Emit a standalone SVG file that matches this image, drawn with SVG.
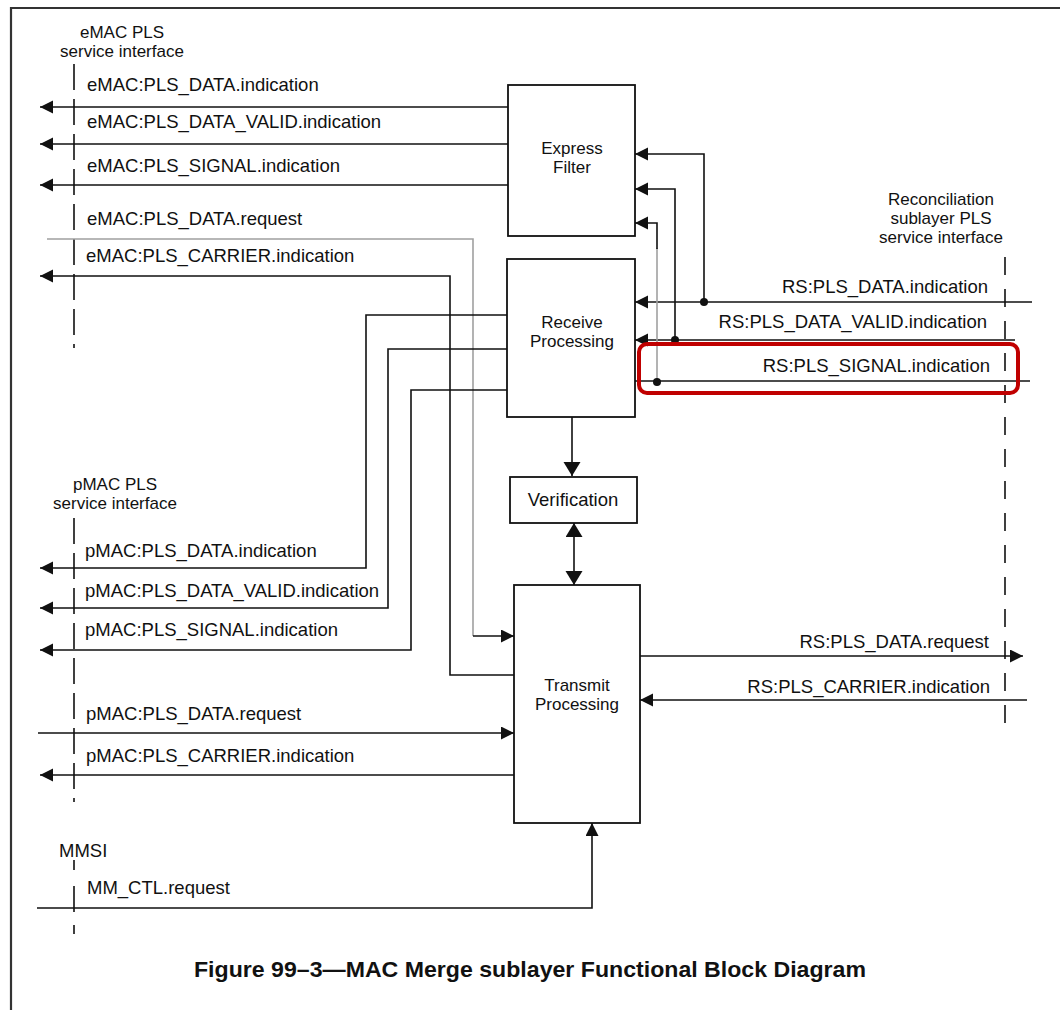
<svg xmlns="http://www.w3.org/2000/svg" width="1060" height="1010" viewBox="0 0 1060 1010">
<style>
text{font-family:"Liberation Sans",Arial,sans-serif;font-size:18.5px;fill:#111}
.c{text-anchor:middle}
.m{font-size:17px}
.e{text-anchor:end}
.cap{font-weight:bold;font-size:22px}
.ln{fill:none;stroke:#111;stroke-width:1.6}
.gr{fill:none;stroke:#a0a0a0;stroke-width:1.6}
.box{fill:#fff;stroke:#111;stroke-width:1.8}
.dl{fill:none;stroke:#111;stroke-width:1.6;stroke-dasharray:26 9}
.dr{fill:none;stroke:#111;stroke-width:1.6;stroke-dasharray:18 14}
.dot{fill:#111}
</style>
<defs>
<marker id="a" markerUnits="userSpaceOnUse" markerWidth="14" markerHeight="14" refX="13" refY="6.5" orient="auto-start-reverse"><path d="M0,0L13,6.5L0,13z" fill="#111"/></marker>
<marker id="b" markerUnits="userSpaceOnUse" markerWidth="16" markerHeight="18" refX="14" refY="8.5" orient="auto-start-reverse"><path d="M0,0L14,8.5L0,17z" fill="#111"/></marker>
</defs>
<rect width="1060" height="1010" fill="#fff"/>
<path d="M11,1010V8H1060" fill="none" stroke="#333" stroke-width="2.2"/>

<g id="interfaces">
<text class="c m" x="122" y="38">eMAC PLS</text>
<text class="c m" x="122" y="57">service interface</text>
<path class="dl" d="M74,64V348"/>
<text class="c m" x="115" y="490">pMAC PLS</text>
<text class="c m" x="115" y="509">service interface</text>
<path class="dl" d="M74,518V802"/>
<text x="59" y="857">MMSI</text>
<path class="ln" d="M74,860V870M74,886V912M74,925V934"/>
<text class="c m" x="941" y="205">Reconciliation</text>
<text class="c m" x="941" y="224">sublayer PLS</text>
<text class="c m" x="941" y="243">service interface</text>
<path class="dr" d="M1005,257V727"/>
</g>

<g id="connectors">
<path class="ln" d="M508,107H40" marker-end="url(#a)"/>
<path class="ln" d="M508,144H40" marker-end="url(#a)"/>
<path class="ln" d="M508,185H40" marker-end="url(#a)"/>
<path class="gr" d="M47,239H473V636"/>
<path class="ln" d="M473,636H514" marker-end="url(#a)"/>
<path class="ln" d="M514,675H450V276H40" marker-end="url(#a)"/>
<path class="ln" d="M507,315H366V568H40" marker-end="url(#a)"/>
<path class="ln" d="M507,349H388V608H40" marker-end="url(#a)"/>
<path class="ln" d="M507,390H411V650H40" marker-end="url(#a)"/>
<path class="ln" d="M38,733H514" marker-end="url(#a)"/>
<path class="ln" d="M514,775H40" marker-end="url(#a)"/>
<path class="ln" d="M37,908H592V823" marker-end="url(#a)"/>
<path class="ln" d="M1032,302H635" marker-end="url(#a)"/>
<path class="ln" d="M704,302V154H635" marker-end="url(#a)"/>
<circle class="dot" cx="704" cy="302" r="4"/>
<path class="ln" d="M1015,340H635" marker-end="url(#a)"/>
<path class="ln" d="M675,340V189H635" marker-end="url(#a)"/>
<circle class="dot" cx="675" cy="340" r="4"/>
<path class="ln" d="M1030,381H631"/>
<path class="gr" d="M657,382V248"/>
<path class="ln" d="M657,249V223H635" marker-end="url(#a)"/>
<circle class="dot" cx="657" cy="382" r="4"/>
<path class="ln" d="M640,656H1023" marker-end="url(#a)"/>
<path class="ln" d="M1027,700H640" marker-end="url(#a)"/>
<path class="ln" d="M572,417V476" marker-end="url(#b)"/>
<path class="ln" d="M574,523V585" marker-start="url(#b)" marker-end="url(#b)"/>
</g>

<g id="labels">
<text x="87" y="91">eMAC:PLS_DATA.indication</text>
<text x="87" y="128">eMAC:PLS_DATA_VALID.indication</text>
<text x="87" y="172">eMAC:PLS_SIGNAL.indication</text>
<text x="87" y="225">eMAC:PLS_DATA.request</text>
<text x="86" y="262">eMAC:PLS_CARRIER.indication</text>
<text x="85" y="557">pMAC:PLS_DATA.indication</text>
<text x="85" y="597">pMAC:PLS_DATA_VALID.indication</text>
<text x="85" y="636">pMAC:PLS_SIGNAL.indication</text>
<text x="86" y="720">pMAC:PLS_DATA.request</text>
<text x="86" y="762">pMAC:PLS_CARRIER.indication</text>
<text x="87" y="894">MM_CTL.request</text>
<text class="e" x="988" y="293">RS:PLS_DATA.indication</text>
<text class="e" x="987" y="328">RS:PLS_DATA_VALID.indication</text>
<text class="e" x="990" y="372">RS:PLS_SIGNAL.indication</text>
<text class="e" x="989" y="648">RS:PLS_DATA.request</text>
<text class="e" x="990" y="693">RS:PLS_CARRIER.indication</text>
</g>

<g id="express-filter">
<rect class="box" x="508" y="85" width="127" height="151"/>
<text class="c m" x="572" y="154">Express</text>
<text class="c m" x="572" y="173">Filter</text>
</g>
<g id="receive-processing">
<rect class="box" x="507" y="259" width="128" height="158"/>
<text class="c m" x="572" y="328">Receive</text>
<text class="c m" x="572" y="347">Processing</text>
</g>
<g id="verification">
<rect class="box" x="510" y="477" width="127" height="46"/>
<text class="c" x="573" y="506">Verification</text>
</g>
<g id="transmit-processing">
<rect class="box" x="514" y="585" width="126" height="238"/>
<text class="c m" x="577" y="691">Transmit</text>
<text class="c m" x="577" y="710">Processing</text>
</g>

<rect id="highlight" x="639" y="344" width="379" height="49" rx="8" fill="none" stroke="#c00000" stroke-width="4"/>

<text class="c cap" x="530" y="977" textLength="672" lengthAdjust="spacingAndGlyphs">Figure 99–3—MAC Merge sublayer Functional Block Diagram</text>
</svg>
